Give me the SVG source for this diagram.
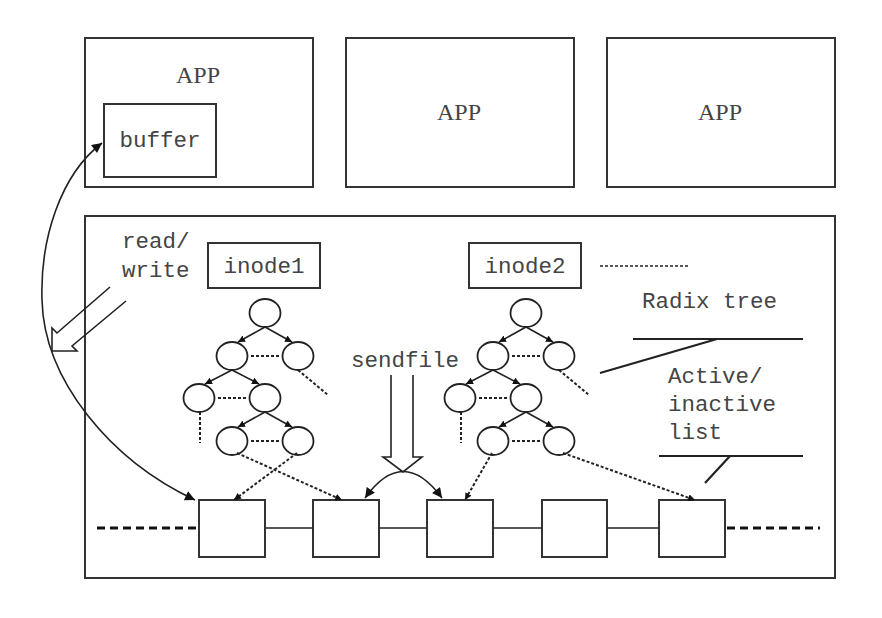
<svg xmlns="http://www.w3.org/2000/svg" width="882" height="618" viewBox="0 0 882 618">
<defs>
<style>
.box{fill:#fff;stroke:#333;stroke-width:2}
.ln{fill:none;stroke:#222;stroke-width:1.6}
.dot{fill:none;stroke:#222;stroke-width:2;stroke-dasharray:3,2}
.dash{fill:none;stroke:#111;stroke-width:3;stroke-dasharray:8,5}
.circ{fill:#fff;stroke:#222;stroke-width:1.8}
.mono{font-family:"Liberation Mono","DejaVu Sans Mono",monospace;font-size:22.5px;fill:#444}
.serif{font-family:"Liberation Serif","DejaVu Serif",serif;font-size:24px;fill:#444}
</style>
<marker id="ah" viewBox="0 0 10 10" refX="10" refY="5" markerWidth="11" markerHeight="10" markerUnits="userSpaceOnUse" orient="auto-start-reverse"><path d="M0,0 L10,5 L0,10 Z" fill="#111"/></marker>
<marker id="sm" viewBox="0 0 10 10" refX="10" refY="5" markerWidth="7" markerHeight="7" markerUnits="userSpaceOnUse" orient="auto"><path d="M0,0 L10,5 L0,10 Z" fill="#111"/></marker>
<g id="tree">
<line class="ln" x1="0" y1="14" x2="-27" y2="29" marker-end="url(#sm)"/>
<line class="ln" x1="0" y1="14" x2="27" y2="29" marker-end="url(#sm)"/>
<line class="ln" x1="-33" y1="57" x2="-60" y2="71" marker-end="url(#sm)"/>
<line class="ln" x1="-33" y1="57" x2="-6" y2="71" marker-end="url(#sm)"/>
<line class="ln" x1="0" y1="99" x2="-27" y2="114" marker-end="url(#sm)"/>
<line class="ln" x1="0" y1="99" x2="27" y2="114" marker-end="url(#sm)"/>
<ellipse class="circ" cx="0" cy="0" rx="15.5" ry="14"/>
<ellipse class="circ" cx="-33" cy="43" rx="15.5" ry="14"/>
<ellipse class="circ" cx="33" cy="43" rx="15.5" ry="14"/>
<ellipse class="circ" cx="-66" cy="85" rx="15.5" ry="14"/>
<ellipse class="circ" cx="0" cy="85" rx="15.5" ry="14"/>
<ellipse class="circ" cx="-33" cy="128" rx="15.5" ry="14"/>
<ellipse class="circ" cx="33" cy="128" rx="15.5" ry="14"/>
<path class="dot" d="M-14,43 H14 M-47,85 H-19 M-14,128 H14 M33,57 L63,82 M-65,99 V130"/>
</g>
</defs>
<rect width="882" height="618" fill="#fff"/>

<g id="app1"><rect class="box" x="85" y="38" width="228" height="149"/><text class="serif" x="198" y="83" text-anchor="middle">APP</text></g>
<g id="buffer"><rect class="box" x="104" y="104" width="112" height="73"/><text class="mono" x="160" y="147" text-anchor="middle">buffer</text></g>
<g id="app2"><rect class="box" x="346" y="38" width="228" height="149"/><text class="serif" x="459" y="120" text-anchor="middle">APP</text></g>
<g id="app3"><rect class="box" x="607" y="38" width="228" height="149"/><text class="serif" x="720" y="120" text-anchor="middle">APP</text></g>

<g id="kernel"><rect class="box" x="85" y="216" width="750" height="362"/></g>

<g id="inode1"><rect class="box" x="208" y="243" width="112" height="45"/><text class="mono" x="264" y="273" text-anchor="middle">inode1</text></g>
<g id="inode2"><rect class="box" x="469" y="243" width="112" height="45"/><text class="mono" x="525" y="273" text-anchor="middle">inode2</text></g>

<g id="tree1"><use href="#tree" x="265" y="313"/></g>
<g id="tree2"><use href="#tree" x="526" y="313"/></g>

<g id="page1"><rect class="box" x="199" y="500" width="66" height="57"/></g>
<g id="page2"><rect class="box" x="313" y="500" width="66" height="57"/></g>
<g id="page3"><rect class="box" x="427" y="500" width="66" height="57"/></g>
<g id="page4"><rect class="box" x="542" y="500" width="65" height="57"/></g>
<g id="page5"><rect class="box" x="659" y="500" width="66" height="57"/></g>

<g id="labels">
<text class="mono" x="122" y="248">read/</text>
<text class="mono" x="122" y="277">write</text>
<text class="mono" x="351" y="367">sendfile</text>
<text class="mono" x="642" y="308">Radix tree</text>
<text class="mono" x="668" y="383">Active/</text>
<text class="mono" x="668" y="411">inactive</text>
<text class="mono" x="668" y="439">list</text>
</g>

<g id="connectors">
<path class="ln" d="M265,528 H313 M379,528 H427 M493,528 H542 M607,528 H659"/>
<path class="dash" d="M97,528 H197 M727,528 H820"/>
<path class="dot" d="M600,266 H688" style="stroke-width:1.6"/>
<path class="dot" d="M237,453 L342,500" marker-end="url(#sm)"/>
<path class="dot" d="M297,453 L234,500" marker-end="url(#sm)"/>
<path class="dot" d="M492,453 L465,500" marker-end="url(#sm)"/>
<path class="dot" d="M563,453 L695,500" marker-end="url(#sm)"/>
<path class="ln" d="M102,143 C60,175 40,240 42,300 C44,380 110,460 195,500" marker-start="url(#ah)" marker-end="url(#ah)"/>
<path class="ln" d="M110,287 L57,333 L52,328 L52,351 L77,351 L72,346 L126,301"/>
<path class="ln" d="M391,375 V457 H383 L403,472 L422,457 H413 V375"/>
<path class="ln" d="M365,498 Q403,445 442,498" marker-start="url(#ah)" marker-end="url(#ah)"/>
<path class="ln" d="M633,339 H803 M717,339 L600,373 M659,456 H803 M730,456 L705,483" style="stroke-width:2.2"/>
</g>
</svg>
